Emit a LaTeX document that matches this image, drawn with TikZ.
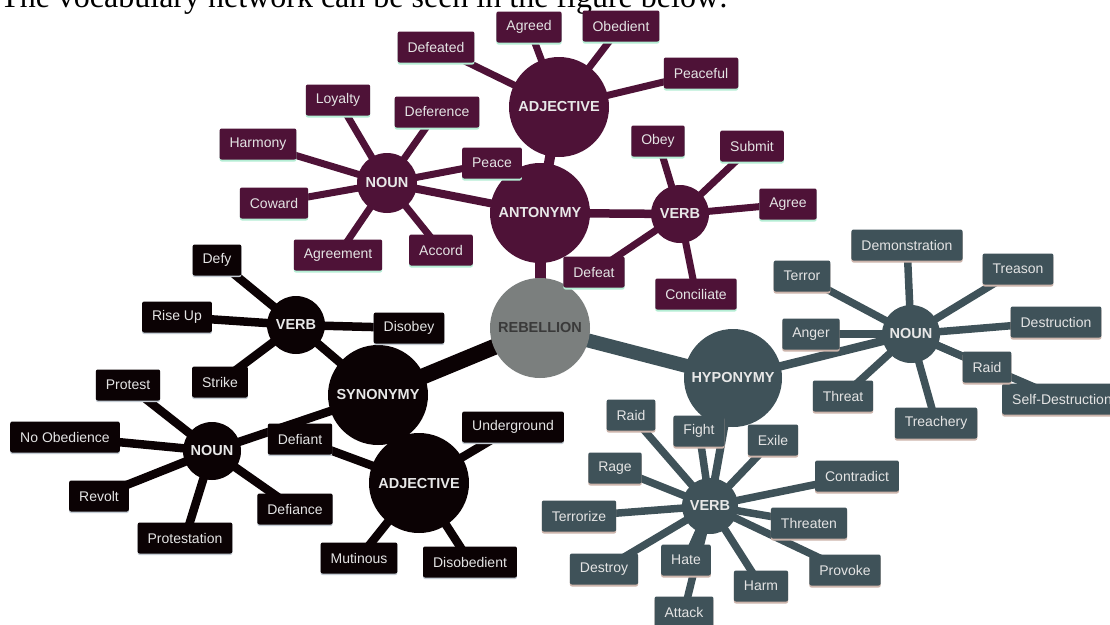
\documentclass[tikz,border=0pt]{standalone}
\usepackage{fontspec}
\setmainfont{Liberation Sans}
\newfontfamily\serifface{Liberation Serif}
\usetikzlibrary{shadows}
\definecolor{pur}{HTML}{4E1237}
\definecolor{mint}{HTML}{B4EED4}
\definecolor{blk}{HTML}{0B0204}
\definecolor{blkshadow}{HTML}{C4CCD4}
\definecolor{slate}{HTML}{3F5259}
\definecolor{slateshadow}{HTML}{CDB5AC}
\definecolor{rebgrey}{HTML}{7B7F7E}
\definecolor{leaftext}{HTML}{E4E4E4}
\definecolor{hubtext}{HTML}{E8E8E8}
\definecolor{rebtext}{HTML}{3A3A3A}
\pgfdeclarelayer{back}
\pgfdeclarelayer{bg}
\pgfsetlayers{back,bg,main}
\tikzset{
  leaf/.style={rectangle, rounded corners=2pt, minimum height=31pt, inner xsep=10pt, inner ysep=0pt, text=leaftext, font=\fontsize{14}{16}\selectfont},
  pleaf/.style={leaf, fill=pur, drop shadow={shadow xshift=0pt, shadow yshift=-2pt, fill=mint, opacity=1}},
  bleaf/.style={leaf, fill=blk, drop shadow={shadow xshift=0pt, shadow yshift=-1.5pt, fill=blkshadow, opacity=1}},
  sleaf/.style={leaf, fill=slate, drop shadow={shadow xshift=0pt, shadow yshift=-2pt, fill=slateshadow, opacity=1}},
  hub/.style={circle, inner sep=0pt, text=hubtext, font=\bfseries\fontsize{14.5}{16}\selectfont},
  big/.style={hub, minimum size=100pt},
  small/.style={hub, minimum size=58pt},
  pline/.style={draw=pur, line width=7pt},
  bline/.style={draw=blk, line width=8.5pt},
  sline/.style={draw=slate, line width=7.5pt},
}
\begin{document}
\begin{tikzpicture}[x=1pt,y=-1pt]
\useasboundingbox (0,0) rectangle (1110,624);
\begin{pgfonlayer}{back}
\fill[white] (0,0) rectangle (1110,624);
\end{pgfonlayer}
\clip (0,0) rectangle (1110,624);

\node[anchor=base west, inner sep=0pt, font=\serifface\fontsize{32}{36}\selectfont] (title) at (0,7.5) {The vocabulary network can be seen in the figure below:};

% hubs
\node[big, fill=rebgrey, text=rebtext] (reb) at (540,328) {REBELLION};
\node[big, fill=pur] (ant) at (540,213) {ANTONYMY};
\node[big, fill=pur] (padj) at (559,107) {ADJECTIVE};
\node[small, minimum size=60pt, fill=pur] (pnoun) at (387,183) {NOUN};
\node[small, fill=pur] (pverb) at (680,214) {VERB};
\node[big, fill=blk] (syn) at (378,395) {SYNONYMY};
\node[big, fill=blk] (badj) at (419,483) {ADJECTIVE};
\node[small, fill=blk] (bverb) at (296,325) {VERB};
\node[small, fill=blk] (bnoun) at (212,451) {NOUN};
\node[big, minimum size=98pt, fill=slate] (hyp) at (733,378) {HYPONYMY};
\node[small, fill=slate] (snoun) at (911,334) {NOUN};
\node[small, minimum size=56pt, fill=slate] (sverb) at (710,506) {VERB};

% purple leaves
\node[pleaf] (defeated) at (436,47) {Defeated};
\node[pleaf] (agreed) at (529,27) {Agreed};
\node[pleaf] (obedient) at (621,26) {Obedient};
\node[pleaf] (peaceful) at (701,73) {Peaceful};
\node[pleaf] (loyalty) at (338,100) {Loyalty};
\node[pleaf] (deference) at (437,112) {Deference};
\node[pleaf] (harmony) at (258,144) {Harmony};
\node[pleaf] (peace) at (492,163) {Peace};
\node[pleaf] (coward) at (274,203) {Coward};
\node[pleaf] (agreement) at (338,255) {Agreement};
\node[pleaf] (accord) at (441,250) {Accord};
\node[pleaf] (obey) at (658,141) {Obey};
\node[pleaf] (submit) at (752,146) {Submit};
\node[pleaf] (agree) at (788,204) {Agree};
\node[pleaf] (defeat) at (594,272) {Defeat};
\node[pleaf] (conciliate) at (696,294) {Conciliate};

% black leaves
\node[bleaf] (defy) at (217,260) {Defy};
\node[bleaf] (riseup) at (177,317) {Rise Up};
\node[bleaf] (disobey) at (409,328) {Disobey};
\node[bleaf] (strike) at (220,382) {Strike};
\node[bleaf] (protest) at (128,385) {Protest};
\node[bleaf] (noobed) at (65,437) {No Obedience};
\node[bleaf] (revolt) at (99,496) {Revolt};
\node[bleaf] (protestation) at (185,538) {Protestation};
\node[bleaf] (defiance) at (295,509) {Defiance};
\node[bleaf] (defiant) at (300,439) {Defiant};
\node[bleaf] (underground) at (513,427) {Underground};
\node[bleaf] (mutinous) at (359,558) {Mutinous};
\node[bleaf] (disobedient) at (470,562) {Disobedient};

% slate leaves
\node[sleaf] (demonstration) at (907,245) {Demonstration};
\node[sleaf] (terror) at (802,276) {Terror};
\node[sleaf] (treason) at (1018,269) {Treason};
\node[sleaf] (anger) at (811,334) {Anger};
\node[sleaf] (destruction) at (1056,322) {Destruction};
\node[sleaf] (selfdes) at (1062,399) {Self-Destruction};
\node[sleaf] (sraid) at (987,367) {Raid};
\node[sleaf] (threat) at (843,396) {Threat};
\node[sleaf] (treachery) at (936,423) {Treachery};
\node[sleaf] (vraid) at (631,415) {Raid};
\node[sleaf] (fight) at (699,431) {Fight};
\node[sleaf] (exile) at (773,440) {Exile};
\node[sleaf] (rage) at (615,468) {Rage};
\node[sleaf] (contradict) at (857,476) {Contradict};
\node[sleaf] (terrorize) at (579,516) {Terrorize};
\node[sleaf] (threaten) at (809,523) {Threaten};
\node[sleaf] (destroy) at (604,569) {Destroy};
\node[sleaf] (hate) at (686,560) {Hate};
\node[sleaf] (harm) at (761,586) {Harm};
\node[sleaf] (provoke) at (845,570) {Provoke};
\node[sleaf] (attack) at (684,612) {Attack};

\begin{pgfonlayer}{bg}
% main trunks
\draw[draw=pur, line width=11pt] (ant.center) -- (reb.center);
\draw[draw=blk, line width=16pt] (reb.center) -- (syn.center);
\draw[draw=slate, line width=14pt] (reb.center) -- (hyp.center);
% purple
\draw[draw=pur, line width=10pt] (padj.center) -- (ant.center);
\draw[draw=pur, line width=8pt] (pnoun.center) -- (ant.center);
\draw[draw=pur, line width=8.5pt] (pverb.center) -- (ant.center);
\foreach \n in {defeated,agreed,obedient,peaceful} \draw[pline] (padj.center) -- (\n.center);
\foreach \n in {loyalty,deference,harmony,peace,coward,agreement,accord} \draw[pline] (pnoun.center) -- (\n.center);
\foreach \n in {obey,submit,agree,defeat,conciliate} \draw[pline] (pverb.center) -- (\n.center);
% black
\draw[bline] (syn.center) -- (bverb.center);
\draw[bline] (syn.center) -- (bnoun.center);
\draw[bline] (syn.center) -- (badj.center);
\foreach \n in {defy,riseup,disobey,strike} \draw[bline] (bverb.center) -- (\n.center);
\foreach \n in {protest,noobed,revolt,protestation,defiance} \draw[bline] (bnoun.center) -- (\n.center);
\foreach \n in {defiant,underground,mutinous,disobedient} \draw[bline] (badj.center) -- (\n.center);
% slate
\draw[draw=slate, line width=8.5pt] (hyp.center) -- (snoun.center);
\draw[draw=slate, line width=8pt] (hyp.center) -- (sverb.center);
\foreach \n in {demonstration,terror,treason,anger,destruction,selfdes,sraid,threat,treachery} \draw[sline] (snoun.center) -- (\n.center);
\foreach \n in {vraid,fight,exile,rage,contradict,terrorize,threaten,destroy,hate,harm,provoke,attack} \draw[sline] (sverb.center) -- (\n.center);
\end{pgfonlayer}
\end{tikzpicture}
\end{document}
